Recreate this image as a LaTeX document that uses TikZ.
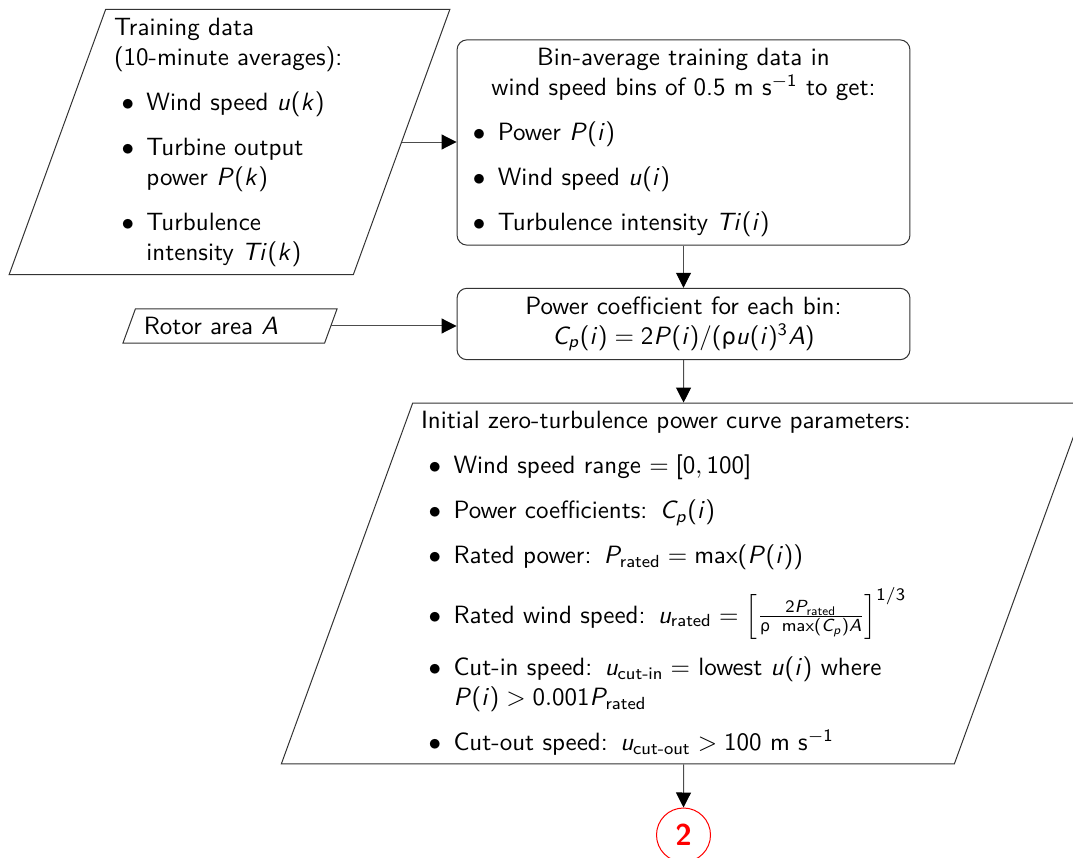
\documentclass[tikz,border=0pt]{standalone}
\usepackage{amsmath}
\usepackage[no-math]{fontspec}
\renewcommand{\familydefault}{\sfdefault}
\usepackage{enumitem}
\usetikzlibrary{shapes.geometric, arrows.meta}
% sans-serif math letters and digits
\DeclareSymbolFont{operators}{OT1}{cmss}{m}{n}
\DeclareSymbolFont{sfletters}{OT1}{cmss}{m}{sl}
\newcount\lettercode
\lettercode=`a
\loop\mathcode\lettercode=\numexpr 28672+256*\symsfletters+\lettercode\relax
  \ifnum\lettercode<`z \advance\lettercode by 1 \repeat
\lettercode=`A
\loop\mathcode\lettercode=\numexpr 28672+256*\symsfletters+\lettercode\relax
  \ifnum\lettercode<`Z \advance\lettercode by 1 \repeat
\newfontfamily\greekfont[Scale=0.9]{DejaVu Sans}
\newcommand{\sfrho}{\text{\greekfont\symbol{"03C1}}}
\setlist[itemize]{label=$\bullet$, leftmargin=13pt, topsep=6pt, itemsep=6pt, parsep=0pt, partopsep=0pt}

\begin{document}
\begin{tikzpicture}[
    x=0.4pt, y=-0.4pt,
    io/.style={trapezium, trapezium left angle=70, trapezium right angle=110, draw=black!80, align=left},
    process/.style={rectangle, draw=black!80, rounded corners=4pt, text width=174.5pt},
    link/.style={draw=black!70, -{Triangle[length=6pt, width=6pt, black]}},
    offpage/.style={circle, draw=red, text=red, font=\large\bfseries, minimum size=21.6pt, inner sep=0pt}
]
    \useasboundingbox (0,0) rectangle (1073,858);

    % Inputs
    \node[io, text width=92.4pt, minimum height=104pt] (train) at (229.5,142) {%
        Training data\\(10-minute averages):
        \begin{itemize}
            \item Wind speed $u(k)$
            \item Turbine output power $P(k)$
            \item Turbulence intensity $Ti(k)$
        \end{itemize}};
    \node[io, text width=69pt, minimum height=13.6pt] (rotor) at (230,326) {Rotor area $A$};

    % Processing
    \node[process, align=left, minimum height=81.2pt] (bins) at (683.5,142.5) {%
        {\centering Bin-average training data in\\
        wind speed bins of 0.5 m s$^{-1}$ to get:\par}
        \begin{itemize}
            \item Power $P(i)$
            \item Wind speed $u(i)$
            \item Turbulence intensity $Ti(i)$
        \end{itemize}};
    \node[process, align=center, minimum height=26.4pt] (coeff) at (683.5,324) {%
        Power coefficient for each bin:\\
        \mbox{$C_p(i) = 2P(i)/(\sfrho u(i)^3 A)$}};

    % Parameters
    \node[io, text width=210pt, minimum height=142.8pt] (params) at (683.5,583.5) {%
        Initial zero-turbulence power curve parameters:
        \begin{itemize}
            \item Wind speed range $= [0, 100]$
            \item Power coefficients: $C_p(i)$
            \item Rated power: $P_\text{rated} = \max(P(i))$
            \item Rated wind speed: $u_\text{rated} = \left[\frac{2P_\text{rated}}{\sfrho\ \max(C_p)A}\right]^{1/3}$
            \item Cut-in speed: $u_\text{cut-in} =$ lowest $u(i)$ where $P(i) > 0.001P_\text{rated}$
            \item Cut-out speed: $u_\text{cut-out} > 100$ m s$^{-1}$
        \end{itemize}};

    % Continuation
    \node[offpage] (next) at (683.5,835) {2};

    % Arrows
    \draw[link] (train.east) -- (train.east -| bins.west);
    \draw[link] (bins.south) -- (coeff.north);
    \draw[link] (rotor.east) -- (rotor.east -| coeff.west);
    \draw[link] (coeff.south) -- (params.north);
    \draw[link] (params.south) -- (next.north);
\end{tikzpicture}
\end{document}
